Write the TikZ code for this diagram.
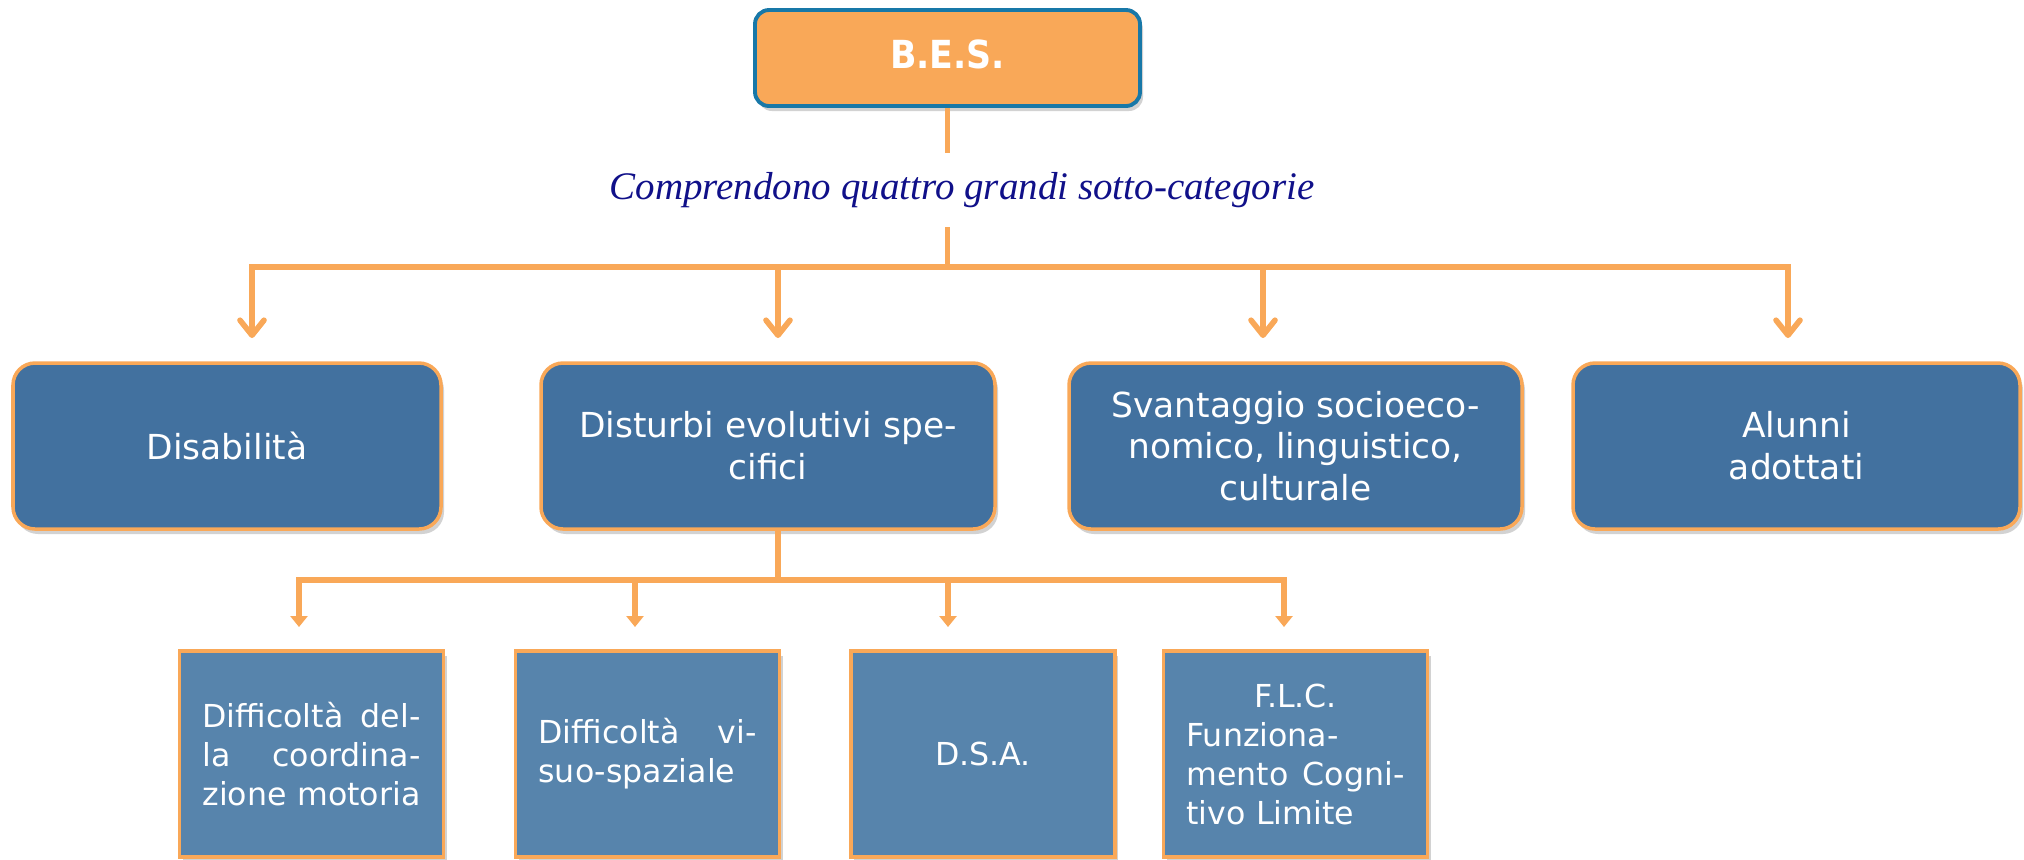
\documentclass[tikz,border=0pt]{standalone}
\usepackage{fontspec}
\setmainfont{DejaVu Sans}
\newfontfamily\capfont{Liberation Serif}
\newfontfamily\besfont{DejaVu Sans Condensed}
\usetikzlibrary{arrows.meta,shadows}
\definecolor{borange}{RGB}{249,168,88}
\definecolor{bteal}{RGB}{24,120,168}
\definecolor{catblue}{RGB}{66,113,159}
\definecolor{subblue}{RGB}{87,132,172}
\definecolor{capnavy}{RGB}{16,16,137}
\tikzset{
  boxshadow/.style={drop shadow={shadow xshift=0.03cm, shadow yshift=-0.05cm, opacity=0.25, fill=black!70}},
  besbox/.style={draw=bteal, line width=1.1pt, fill=borange, rounded corners=0.14cm, text=white,
    minimum width=3.85cm, minimum height=0.96cm, font=\besfont\bfseries\fontsize{11}{13}\selectfont, boxshadow},
  catbox/.style={draw=borange, line width=1pt, fill=catblue, rounded corners=0.22cm, text=white, align=center,
    minimum height=1.66cm, font=\fontsize{9.8}{11.9}\selectfont, boxshadow},
  subbox/.style={draw=borange, line width=1pt, fill=subblue, text=white, text width=2.18cm, align=left,
    inner xsep=0.23cm, minimum height=2.06cm, font=\fontsize{9}{11.1}\selectfont, boxshadow},
  caption/.style={text=capnavy, inner sep=0pt, minimum height=0.73cm, font=\capfont\itshape\fontsize{11.1}{13}\selectfont},
  link/.style={draw=borange, line width=1.6pt},
  toparr/.style={link, -{Straight Barb[length=0.15cm, width=0.24cm, round]}},
  subarr/.style={link, -{Triangle[length=0.11cm, width=0.17cm]}}
}
\begin{document}
\begin{tikzpicture}
\useasboundingbox (0,0) rectangle (20.24,-8.59);
\node [besbox] (bes) at (9.475,-0.58) {\raisebox{0.07cm}{B.E.S.}};
\node [caption] (cat) at (9.62,-1.9) {Comprendono quattro grandi sotto-categorie};
\coordinate (j1) at (9.475,-2.67);
\coordinate (t1) at (2.52,-3.38);
\coordinate (t2) at (7.78,-3.38);
\coordinate (t3) at (12.63,-3.38);
\coordinate (t4) at (17.88,-3.38);
\draw [link] (bes.south) -- (bes.south |- cat.north);
\draw [link] (bes.south |- cat.south) -- (j1);
\foreach \t in {t1,t2,t3,t4}
  \draw [toparr] (j1) -| (\t);

\node [catbox, minimum width=4.28cm] (disab) at (2.27,-4.46) {Disabilità};
\node [catbox, minimum width=4.54cm] (dse) at (7.68,-4.46) {Disturbi evolutivi spe-\\cifici};
\node [catbox, minimum width=4.53cm] (svan) at (12.955,-4.46) {Svantaggio socioeco-\\nomico, linguistico,\\culturale};
\node [catbox, minimum width=4.47cm] (alun) at (17.965,-4.46) {Alunni\\adottati};

\coordinate (j2) at (7.78,-5.80);
\coordinate (s1) at (2.99,-6.27);
\coordinate (s2) at (6.35,-6.27);
\coordinate (s3) at (9.48,-6.27);
\coordinate (s4) at (12.84,-6.27);
\draw [link] (t2 |- dse.south) -- (j2);
\foreach \s in {s1,s2,s3,s4}
  \draw [subarr] (j2) -| (\s);

\node [subbox] (dcm) at (3.115,-7.54) {Difficoltà\hfill del-\\la\hfill coordina-\\zione motoria};
\node [subbox] (dvs) at (6.475,-7.54) {Difficoltà\hfill vi-\\suo-spaziale};
\node [subbox, align=center] (dsa) at (9.83,-7.54) {D.S.A.};
\node [subbox] (flc) at (12.955,-7.54) {\hfill F.L.C.\hfill\null\\Funziona-\\mento\hfill Cogni-\\tivo Limite};
\end{tikzpicture}
\end{document}
